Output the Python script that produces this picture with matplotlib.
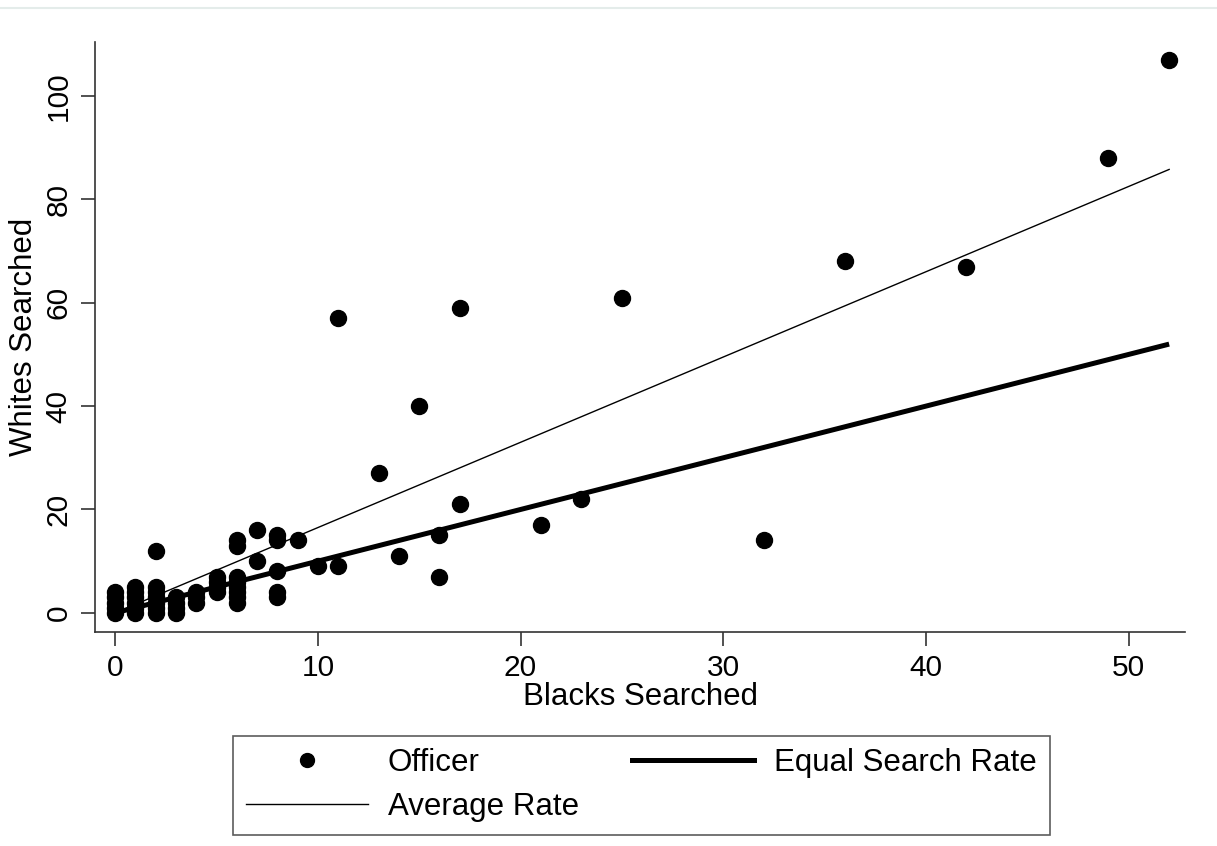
import matplotlib.pyplot as plt
from matplotlib.lines import Line2D

plt.rcParams["font.family"] = ["Liberation Sans", "DejaVu Sans"]

# officers: blacks searched vs whites searched
blacks = [0, 0, 0, 0, 0,
          1, 1, 1, 1, 1, 1,
          2, 2, 2, 2, 2, 2, 2,
          3, 3, 3, 3,
          4, 4, 4,
          5, 5, 5, 5,
          6, 6, 6, 6, 6, 6, 6, 6,
          7, 7,
          8, 8, 8, 8, 8,
          9, 10, 11, 11, 13, 14, 15, 16, 16, 17, 17,
          21, 23, 25, 32, 36, 42, 49, 52]
whites = [0, 1, 2, 3, 4,
          0, 1, 2, 3, 4, 5,
          0, 1, 2, 3, 4, 5, 12,
          0, 1, 2, 3,
          2, 3, 4,
          4, 5, 6, 7,
          2, 3, 4, 5, 6, 7, 13, 14,
          10, 16,
          3, 4, 8, 14, 15,
          14, 9, 9, 57, 27, 11, 40, 7, 15, 21, 59,
          17, 22, 61, 14, 68, 67, 88, 107]

line_x = [0, 52]
equal_y = [0, 52]
average_y = [0, 85.8]

fig = plt.figure(figsize=(12.17, 8.46), dpi=100)
ax = fig.add_axes([0.078, 0.253, 0.896, 0.697])

ax.plot(line_x, equal_y, color="black", lw=3.6, solid_capstyle="butt", zorder=2)
ax.plot(line_x, average_y, color="black", lw=1.0, zorder=2)
ax.plot(blacks, whites, "o", color="black", markersize=11.5, zorder=3)

ax.set_xlim(-1, 52.8)
ax.set_ylim(-3.7, 110.4)
ax.set_xticks([0, 10, 20, 30, 40, 50])
ax.set_yticks([0, 20, 40, 60, 80, 100])

for side in ["top", "right"]:
    ax.spines[side].set_visible(False)
for side in ["left", "bottom"]:
    ax.spines[side].set_color("#333333")
    ax.spines[side].set_linewidth(1.2)

ax.tick_params(length=10, width=1.2, color="#333333", labelsize=21.5, pad=6)
for lab in ax.get_yticklabels():
    lab.set_rotation(90)
    lab.set_va("center")

ax.set_xlabel("Blacks Searched", fontsize=22.5, labelpad=0)
ax.set_ylabel("Whites Searched", fontsize=22.5, labelpad=4)

handles = [
    Line2D([], [], marker="o", color="black", ls="none", markersize=10),
    Line2D([], [], color="black", lw=1.0),
    Line2D([], [], color="black", lw=3.6),
]
labels = ["Officer", "Average Rate", "Equal Search Rate"]
leg = fig.legend(handles, labels, ncol=2, loc="center", bbox_to_anchor=(0.527, 0.072),
                 fontsize=22.5, frameon=True, fancybox=False, edgecolor="#333333",
                 handlelength=3.9, columnspacing=1.7, handletextpad=0.65,
                 labelspacing=0.45, borderpad=0.4, borderaxespad=0.2)
leg.get_frame().set_linewidth(1.2)

# faint rule under the clipped caption at the top
fig.add_artist(Line2D([0, 1], [0.991, 0.991], color="#e4ecea", lw=1.5))

fig.savefig("out.png", dpi=100)
